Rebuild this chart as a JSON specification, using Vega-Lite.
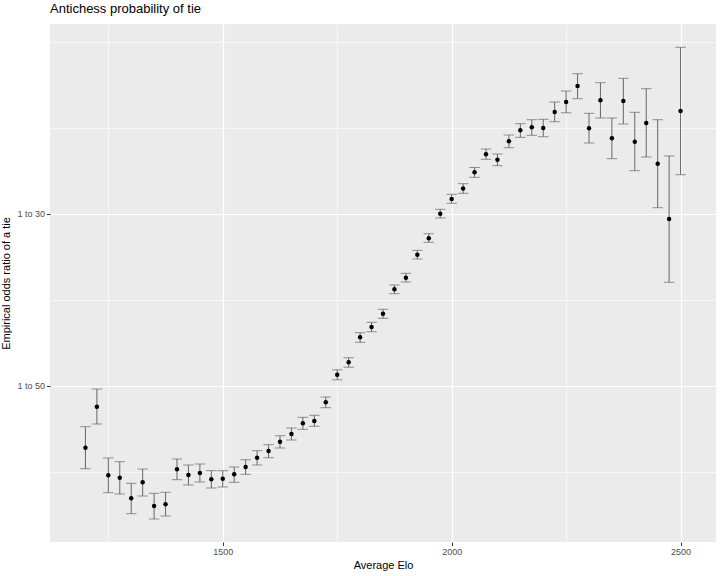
{
  "$schema": "https://vega.github.io/schema/vega-lite/v6.json",
  "width": 666,
  "height": 518,
  "autosize": "none",
  "padding": {"left": 50, "top": 24, "right": 4, "bottom": 34},
  "background": "white",
  "config": {
    "view": {"fill": "#EBEBEB", "stroke": null},
    "font": "Liberation Sans",
    "axis": {"labelFont": "Liberation Sans", "titleFont": "Liberation Sans"}
  },
  "title": {"text": "Antichess probability of tie", "anchor": "start", "frame": "group", "fontSize": 13, "fontWeight": "normal", "font": "Liberation Sans", "color": "black", "offset": 8},
  "data": {"values": [
    {"elo": 1200, "p": 0.015185, "lo": 0.013554, "hi": 0.016816},
    {"elo": 1225, "p": 0.018369, "lo": 0.017025, "hi": 0.019743},
    {"elo": 1250, "p": 0.013042, "lo": 0.011690, "hi": 0.014385},
    {"elo": 1275, "p": 0.012855, "lo": 0.011590, "hi": 0.014098},
    {"elo": 1300, "p": 0.011256, "lo": 0.010060, "hi": 0.012420},
    {"elo": 1325, "p": 0.012498, "lo": 0.011434, "hi": 0.013531},
    {"elo": 1350, "p": 0.010658, "lo": 0.009648, "hi": 0.011644},
    {"elo": 1375, "p": 0.010790, "lo": 0.009881, "hi": 0.011721},
    {"elo": 1400, "p": 0.013508, "lo": 0.012700, "hi": 0.014308},
    {"elo": 1425, "p": 0.013065, "lo": 0.012288, "hi": 0.013842},
    {"elo": 1450, "p": 0.013220, "lo": 0.012521, "hi": 0.013919},
    {"elo": 1475, "p": 0.012731, "lo": 0.012056, "hi": 0.013399},
    {"elo": 1500, "p": 0.012778, "lo": 0.012133, "hi": 0.013399},
    {"elo": 1525, "p": 0.013119, "lo": 0.012498, "hi": 0.013686},
    {"elo": 1550, "p": 0.013686, "lo": 0.013119, "hi": 0.014253},
    {"elo": 1575, "p": 0.014408, "lo": 0.013842, "hi": 0.014952},
    {"elo": 1600, "p": 0.014929, "lo": 0.014408, "hi": 0.015418},
    {"elo": 1625, "p": 0.015651, "lo": 0.015162, "hi": 0.016117},
    {"elo": 1650, "p": 0.016249, "lo": 0.015783, "hi": 0.016715},
    {"elo": 1675, "p": 0.017080, "lo": 0.016614, "hi": 0.017546},
    {"elo": 1700, "p": 0.017258, "lo": 0.016847, "hi": 0.017701},
    {"elo": 1725, "p": 0.018711, "lo": 0.018291, "hi": 0.019122},
    {"elo": 1750, "p": 0.020854, "lo": 0.020458, "hi": 0.021234},
    {"elo": 1775, "p": 0.021817, "lo": 0.021436, "hi": 0.022174},
    {"elo": 1800, "p": 0.023758, "lo": 0.023370, "hi": 0.024115},
    {"elo": 1825, "p": 0.024558, "lo": 0.024193, "hi": 0.024923},
    {"elo": 1850, "p": 0.025591, "lo": 0.025233, "hi": 0.025932},
    {"elo": 1875, "p": 0.027486, "lo": 0.027144, "hi": 0.027819},
    {"elo": 1900, "p": 0.028386, "lo": 0.028052, "hi": 0.028728},
    {"elo": 1925, "p": 0.030172, "lo": 0.029839, "hi": 0.030514},
    {"elo": 1950, "p": 0.031446, "lo": 0.031135, "hi": 0.031803},
    {"elo": 1975, "p": 0.033356, "lo": 0.033022, "hi": 0.033698},
    {"elo": 2000, "p": 0.034498, "lo": 0.034164, "hi": 0.034863},
    {"elo": 2025, "p": 0.035313, "lo": 0.034940, "hi": 0.035686},
    {"elo": 2050, "p": 0.036571, "lo": 0.036183, "hi": 0.036944},
    {"elo": 2075, "p": 0.037969, "lo": 0.037581, "hi": 0.038381},
    {"elo": 2100, "p": 0.037550, "lo": 0.037084, "hi": 0.037992},
    {"elo": 2125, "p": 0.038979, "lo": 0.038482, "hi": 0.039468},
    {"elo": 2150, "p": 0.039833, "lo": 0.039289, "hi": 0.040345},
    {"elo": 2175, "p": 0.040066, "lo": 0.039444, "hi": 0.040656},
    {"elo": 2200, "p": 0.040011, "lo": 0.039336, "hi": 0.040687},
    {"elo": 2225, "p": 0.041254, "lo": 0.040501, "hi": 0.042030},
    {"elo": 2250, "p": 0.042030, "lo": 0.041199, "hi": 0.042885},
    {"elo": 2275, "p": 0.043273, "lo": 0.042287, "hi": 0.044228},
    {"elo": 2300, "p": 0.039988, "lo": 0.038847, "hi": 0.041153},
    {"elo": 2325, "p": 0.042162, "lo": 0.040788, "hi": 0.043529},
    {"elo": 2350, "p": 0.039211, "lo": 0.037627, "hi": 0.040788},
    {"elo": 2375, "p": 0.042108, "lo": 0.040322, "hi": 0.043871},
    {"elo": 2400, "p": 0.038947, "lo": 0.036695, "hi": 0.041231},
    {"elo": 2425, "p": 0.040400, "lo": 0.037759, "hi": 0.043063},
    {"elo": 2450, "p": 0.037239, "lo": 0.033822, "hi": 0.040656},
    {"elo": 2475, "p": 0.032945, "lo": 0.028029, "hi": 0.037837},
    {"elo": 2500, "p": 0.041331, "lo": 0.036385, "hi": 0.046278}
  ]},
  "layer": [
    {
      "mark": {"type": "rule", "color": "#666666", "strokeWidth": 1},
      "encoding": {
        "x": {"field": "elo", "type": "quantitative", "scale": {"domain": [1122.6, 2577.4], "nice": false, "zero": false},
              "axis": {"orient": "bottom", "values": [1500, 2000, 2500], "format": "d", "title": "Average Elo", "titleFontSize": 11, "titleFontWeight": "normal", "titleColor": "black", "titlePadding": 3,
                       "labelFontSize": 9, "labelColor": "#4D4D4D", "labelPadding": 2, "tickColor": "#333333", "tickSize": 3.5, "domain": false,
                       "grid": true, "gridColor": "white", "gridWidth": 1.2}},
        "y": {"field": "lo", "type": "quantitative", "scale": {"domain": [0.007862, 0.048088], "nice": false, "zero": false},
              "axis": {"orient": "left", "values": [0.02, 0.0333333333], "labelExpr": "'1 to ' + round(1/datum.value)", "title": "Empirical odds ratio of a tie", "titleFontSize": 11, "titleFontWeight": "normal", "titleColor": "black", "titlePadding": 5,
                       "labelFontSize": 9, "labelColor": "#4D4D4D", "labelPadding": 2, "tickColor": "#333333", "tickSize": 3.5, "domain": false,
                       "grid": true, "gridColor": "white", "gridWidth": 1.2}},
        "y2": {"field": "hi"}
      }
    },
    {
      "mark": {"type": "tick", "orient": "horizontal", "color": "#666666", "size": 10.5, "thickness": 1},
      "encoding": {
        "x": {"field": "elo", "type": "quantitative", "axis": null},
        "y": {"field": "lo", "type": "quantitative", "axis": null}
      }
    },
    {
      "mark": {"type": "tick", "orient": "horizontal", "color": "#666666", "size": 10.5, "thickness": 1},
      "encoding": {
        "x": {"field": "elo", "type": "quantitative", "axis": null},
        "y": {"field": "hi", "type": "quantitative", "axis": null}
      }
    },
    {
      "mark": {"type": "point", "filled": true, "color": "black", "size": 20, "opacity": 1},
      "encoding": {
        "x": {"field": "elo", "type": "quantitative",
              "axis": {"orient": "top", "values": [1250, 1750, 2250], "labels": false, "ticks": false, "domain": false, "title": null, "grid": true, "gridColor": "white", "gridWidth": 0.6}},
        "y": {"field": "p", "type": "quantitative",
              "axis": {"orient": "right", "values": [0.0133333333, 0.0266666667, 0.04, 0.0466666667], "labels": false, "ticks": false, "domain": false, "title": null, "grid": true, "gridColor": "white", "gridWidth": 0.6}}
      }
    }
  ],
  "resolve": {"axis": {"x": "independent", "y": "independent"}}
}
